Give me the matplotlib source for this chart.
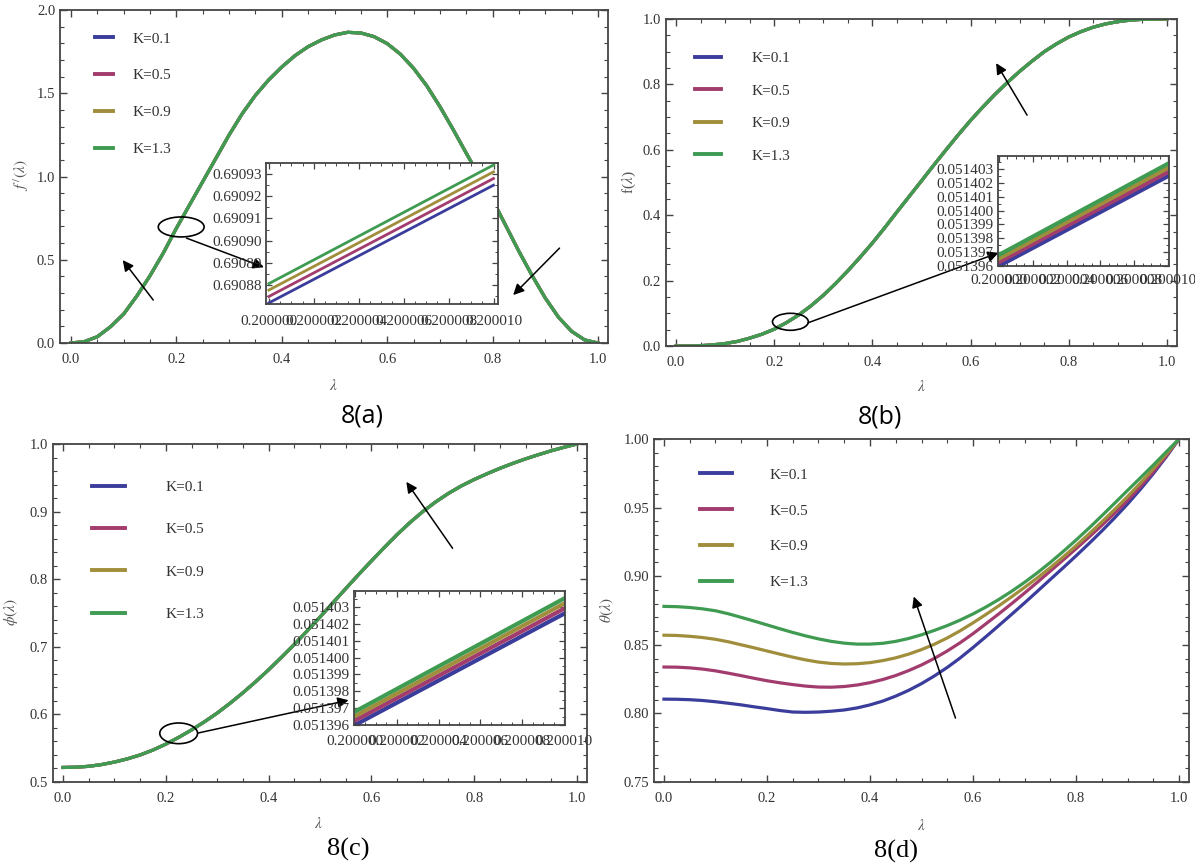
import matplotlib
matplotlib.use('Agg')
import matplotlib.pyplot as plt
from matplotlib.ticker import MultipleLocator, FormatStrFormatter, FixedLocator
from matplotlib.patches import Ellipse
from matplotlib.lines import Line2D

plt.rcParams['font.family'] = ['Liberation Serif', 'DejaVu Serif']
plt.rcParams['mathtext.fontset'] = 'stix'

# ---------------- data ----------------
K_labels = ['K=0.1', 'K=0.5', 'K=0.9', 'K=1.3']
colors = ['#3b3d9c', '#a23c6e', '#a08e3c', '#3f9b52']

lam = [0.000, 0.025, 0.050, 0.075, 0.100, 0.125, 0.150, 0.175, 0.200, 0.225,
       0.250, 0.275, 0.300, 0.325, 0.350, 0.375, 0.400, 0.425, 0.450, 0.475,
       0.500, 0.525, 0.550, 0.575, 0.600, 0.625, 0.650, 0.675, 0.700, 0.725,
       0.750, 0.775, 0.800, 0.825, 0.850, 0.875, 0.900, 0.925, 0.950, 0.975, 1.000]

fprime = [0.000, 0.008, 0.038, 0.098, 0.175, 0.283, 0.405, 0.540, 0.690, 0.830,
          0.970, 1.110, 1.250, 1.378, 1.488, 1.580, 1.658, 1.726, 1.780, 1.820,
          1.850, 1.866, 1.862, 1.840, 1.798, 1.735, 1.650, 1.545, 1.420, 1.283,
          1.140, 1.000, 0.860, 0.705, 0.550, 0.405, 0.270, 0.155, 0.070, 0.018, 0.000]

f_vals = [0.0000, 0.0001, 0.0010, 0.0035, 0.0075, 0.0140, 0.0240, 0.0360, 0.0514, 0.0715,
          0.0950, 0.1230, 0.1550, 0.1910, 0.2300, 0.2715, 0.3150, 0.3615, 0.4100, 0.4575,
          0.5050, 0.5530, 0.6000, 0.6460, 0.6900, 0.7310, 0.7700, 0.8060, 0.8400, 0.8710,
          0.9000, 0.9240, 0.9450, 0.9615, 0.9750, 0.9850, 0.9920, 0.9965, 0.9990, 0.9998, 1.0000]

phi_vals = [0.5215, 0.5219, 0.5232, 0.5258, 0.5295, 0.5342, 0.5400, 0.5473, 0.5560, 0.5660,
            0.5770, 0.5890, 0.6020, 0.6165, 0.6320, 0.6485, 0.6660, 0.6845, 0.7035, 0.7235,
            0.7440, 0.7650, 0.7860, 0.8068, 0.8270, 0.8468, 0.8660, 0.8838, 0.9000, 0.9143,
            0.9270, 0.9380, 0.9475, 0.9560, 0.9640, 0.9713, 0.9780, 0.9842, 0.9900, 0.9952, 1.0000]

theta_K01 = [0.8104, 0.8103, 0.8100, 0.8094, 0.8085, 0.8074, 0.8062, 0.8048, 0.8035, 0.8021,
             0.8010, 0.8008, 0.8010, 0.8016, 0.8025, 0.8040, 0.8062, 0.8090, 0.8126, 0.8168,
             0.8217, 0.8273, 0.8335, 0.8404, 0.8480, 0.8559, 0.8640, 0.8722, 0.8805, 0.8890,
             0.8976, 0.9061, 0.9148, 0.9237, 0.9329, 0.9425, 0.9526, 0.9633, 0.9747, 0.9869, 1.0000]
theta_K05 = [0.8338, 0.8337, 0.8332, 0.8323, 0.8310, 0.8293, 0.8275, 0.8256, 0.8238, 0.8223,
             0.8210, 0.8199, 0.8192, 0.8191, 0.8196, 0.8207, 0.8224, 0.8247, 0.8276, 0.8312,
             0.8353, 0.8401, 0.8455, 0.8515, 0.8581, 0.8653, 0.8725, 0.8800, 0.8877, 0.8956,
             0.9037, 0.9118, 0.9200, 0.9284, 0.9370, 0.9459, 0.9552, 0.9653, 0.9760, 0.9875, 1.0000]
theta_K09 = [0.8570, 0.8568, 0.8562, 0.8553, 0.8540, 0.8522, 0.8500, 0.8478, 0.8455, 0.8432,
             0.8410, 0.8390, 0.8374, 0.8364, 0.8360, 0.8362, 0.8370, 0.8385, 0.8405, 0.8432,
             0.8465, 0.8504, 0.8550, 0.8602, 0.8660, 0.8721, 0.8784, 0.8850, 0.8918, 0.8988,
             0.9062, 0.9140, 0.9222, 0.9307, 0.9395, 0.9486, 0.9580, 0.9679, 0.9782, 0.9889, 1.0000]
theta_K13 = [0.8780, 0.8778, 0.8772, 0.8762, 0.8748, 0.8726, 0.8700, 0.8673, 0.8645, 0.8617,
             0.8590, 0.8565, 0.8543, 0.8525, 0.8512, 0.8505, 0.8505, 0.8511, 0.8525, 0.8546,
             0.8573, 0.8605, 0.8640, 0.8680, 0.8725, 0.8775, 0.8830, 0.8890, 0.8955, 0.9025,
             0.9100, 0.9180, 0.9263, 0.9350, 0.9440, 0.9532, 0.9625, 0.9717, 0.9810, 0.9905, 1.0000]
theta_all = [theta_K01, theta_K05, theta_K09, theta_K13]

# zoomed insets (endpoints of the nearly straight segments)
inset_x = [0.200000, 0.200010]
inset_a_y = [[0.6908719, 0.6909250], [0.6908748, 0.6909280],
             [0.6908777, 0.6909310], [0.6908806, 0.6909341]]
inset_b_y = [[0.05139600, 0.05140250], [0.05139627, 0.05140280],
             [0.05139653, 0.05140310], [0.05139680, 0.05140340]]
inset_c_y = [[0.05139600, 0.05140260], [0.05139627, 0.05140290],
             [0.05139653, 0.05140320], [0.05139680, 0.05140350]]

inset_xticks = [0.200000, 0.200002, 0.200004, 0.200006, 0.200008, 0.200010]
inset_a_yticks = [0.69088, 0.69089, 0.69090, 0.69091, 0.69092, 0.69093]
inset_bc_yticks = [0.051396, 0.051397, 0.051398, 0.051399, 0.051400, 0.051401, 0.051402, 0.051403]

# ---------------- figure ----------------
W, H = 1195, 865
fig = plt.figure(figsize=(W / 100, H / 100), dpi=100)
fig.patch.set_facecolor('white')


def rect(l, t, r, b):
    return [l / W, 1 - b / H, (r - l) / W, (b - t) / H]


SP = '#444444'
TXT = '#333333'


def style(ax, xmaj, xmin, ymaj, ymin, fs=10.5):
    ax.xaxis.set_major_locator(MultipleLocator(xmaj))
    ax.xaxis.set_minor_locator(MultipleLocator(xmin))
    ax.yaxis.set_major_locator(MultipleLocator(ymaj))
    ax.yaxis.set_minor_locator(MultipleLocator(ymin))
    ax.tick_params(which='both', direction='in', top=True, right=True,
                   colors=SP, labelcolor=TXT, labelsize=fs)
    ax.tick_params(axis='x', which='both', pad=7)
    ax.tick_params(axis='y', which='both', pad=3.5)
    ax.tick_params(which='major', length=5, width=1.0)
    ax.tick_params(which='minor', length=3, width=0.8)
    for s in ax.spines.values():
        s.set_color(SP)
        s.set_linewidth(1.3)


def style_inset(ax, yfmt, xpad, fs=11):
    ax.xaxis.set_major_locator(FixedLocator(inset_xticks))
    ax.xaxis.set_major_formatter(FormatStrFormatter('%.6f'))
    ax.xaxis.set_minor_locator(MultipleLocator(0.5e-6))
    ax.yaxis.set_major_formatter(FormatStrFormatter(yfmt))
    ax.tick_params(which='both', direction='in', top=True, right=True,
                   colors=SP, labelcolor=TXT, labelsize=fs)
    ax.tick_params(axis='x', which='both', pad=xpad)
    ax.tick_params(axis='y', which='both', pad=3)
    ax.tick_params(which='major', length=4, width=0.9)
    ax.tick_params(which='minor', length=2.5, width=0.7)
    for s in ax.spines.values():
        s.set_color(SP)
        s.set_linewidth(1.3)


def legend(ax, x, y, hl, htp, ls):
    handles = [Line2D([], [], color=c, lw=2.8) for c in colors]
    ax.legend(handles, K_labels, loc='upper left', bbox_to_anchor=(x / W, 1 - y / H),
              bbox_transform=fig.transFigure, frameon=False, borderpad=0, borderaxespad=0,
              handlelength=hl, handletextpad=htp, labelspacing=ls, fontsize=11,
              labelcolor=TXT)


def arrow(ax, tail, head):
    ax.annotate('', xy=head, xytext=tail, annotation_clip=False,
                arrowprops=dict(arrowstyle='-|>', color='black', lw=1.1,
                                mutation_scale=16, shrinkA=0, shrinkB=0), zorder=6)


def ftext(x, y, s, **kw):
    fig.text(x / W, 1 - y / H, s, ha='center', va='center', **kw)


LW = 2.3

# ---- (a) ----
axa = fig.add_axes(rect(60, 10, 608, 343))
for c in colors:
    axa.plot(lam, fprime, color=c, lw=LW)
axa.set_xlim(-0.021, 1.019)
axa.set_ylim(0, 2.0)
axa.xaxis.set_major_formatter(FormatStrFormatter('%.1f'))
axa.yaxis.set_major_formatter(FormatStrFormatter('%.1f'))
style(axa, 0.2, 0.05, 0.5, 0.1)
legend(axa, 95, 32, 1.2, 1.25, 1.51)
axa.add_patch(Ellipse((0.209, 0.697), 0.087, 0.12, fill=False, ec='black', lw=1.2, zorder=5))
arrow(axa, (0.219, 0.63), (0.366, 0.455))
arrow(axa, (0.156, 0.258), (0.098, 0.498))
arrow(axa, (0.927, 0.57), (0.839, 0.288))

ia = fig.add_axes(rect(266, 163, 498, 304))
for c, yy in zip(colors, inset_a_y):
    ia.plot(inset_x, yy, color=c, lw=2.0)
ia.set_xlim(0.19999987, 0.2000102)
ia.set_ylim(0.6908714, 0.6909350)
ia.yaxis.set_major_locator(FixedLocator(inset_a_yticks))
ia.yaxis.set_minor_locator(MultipleLocator(0.5e-5))
style_inset(ia, '%.5f', xpad=8)

# ---- (b) ----
axb = fig.add_axes(rect(666, 19, 1177, 346))
for c in colors:
    axb.plot(lam, f_vals, color=c, lw=LW)
axb.set_xlim(-0.0204, 1.0204)
axb.set_ylim(0, 1.0)
axb.xaxis.set_major_formatter(FormatStrFormatter('%.1f'))
axb.yaxis.set_major_formatter(FormatStrFormatter('%.1f'))
style(axb, 0.2, 0.05, 0.2, 0.05)
legend(axb, 695, 51.5, 1.72, 1.98, 1.23)
axb.add_patch(Ellipse((0.233, 0.074), 0.073, 0.052, fill=False, ec='black', lw=1.2, zorder=5))
arrow(axb, (0.269, 0.071), (0.657, 0.285))
arrow(axb, (0.715, 0.706), (0.652, 0.865))

ib = fig.add_axes(rect(998, 156, 1169, 266))
for c, yy in zip(colors, inset_b_y):
    ib.plot(inset_x, yy, color=c, lw=3.0)
ib.set_xlim(0.19999995, 0.20001005)
ib.set_ylim(0.051396, 0.05140395)
ib.yaxis.set_major_locator(FixedLocator(inset_bc_yticks))
ib.yaxis.set_minor_locator(MultipleLocator(0.5e-6))
style_inset(ib, '%.6f', xpad=6)

# ---- (c) ----
axc = fig.add_axes(rect(53, 444, 587, 782))
for c in colors:
    axc.plot(lam, phi_vals, color=c, lw=LW)
axc.set_xlim(-0.0195, 1.0195)
axc.set_ylim(0.5, 1.0)
axc.xaxis.set_major_formatter(FormatStrFormatter('%.1f'))
axc.yaxis.set_major_formatter(FormatStrFormatter('%.1f'))
style(axc, 0.2, 0.05, 0.1, 0.02)
legend(axc, 92, 480.5, 2.15, 2.65, 1.87)
axc.add_patch(Ellipse((0.225, 0.572), 0.0735, 0.0306, fill=False, ec='black', lw=1.2, zorder=5))
arrow(axc, (0.263, 0.5725), (0.5556, 0.621))
arrow(axc, (0.758, 0.8457), (0.668, 0.944))

ic = fig.add_axes(rect(354, 591, 565, 725))
for c, yy in zip(colors, inset_c_y):
    ic.plot(inset_x, yy, color=c, lw=3.0)
ic.set_xlim(0.19999995, 0.20001005)
ic.set_ylim(0.051396, 0.05140395)
ic.yaxis.set_major_locator(FixedLocator(inset_bc_yticks))
ic.yaxis.set_minor_locator(MultipleLocator(0.5e-6))
style_inset(ic, '%.6f', xpad=7.5)

# ---- (d) ----
axd = fig.add_axes(rect(654, 439, 1189, 782))
for c, th in zip(colors, theta_all):
    axd.plot(lam, th, color=c, lw=LW)
axd.set_xlim(-0.0194, 1.0194)
axd.set_ylim(0.75, 1.0)
axd.xaxis.set_major_formatter(FormatStrFormatter('%.1f'))
axd.yaxis.set_major_formatter(FormatStrFormatter('%.2f'))
style(axd, 0.2, 0.05, 0.05, 0.01)
legend(axd, 700, 468, 2.08, 2.48, 1.45)
arrow(axd, (0.566, 0.7966), (0.485, 0.8852))

# ---- axis labels ----
lab = dict(color='#555555', fontsize=11)
ftext(333, 385, r'$\lambda$', **lab)
ftext(921, 387, r'$\lambda$', **lab)
ftext(318, 823, r'$\lambda$', **lab)
ftext(921, 825, r'$\lambda$', **lab)
ftext(21, 175, r'$f^{\,/}(\lambda)$', rotation=90, **lab)
ftext(629, 182, r'f($\lambda$)', rotation=90, **lab)
ftext(11, 612, r'$\phi(\lambda)$', rotation=90, **lab)
ftext(607, 610, r'$\theta(\lambda)$', rotation=90, **lab)

# ---- captions ----
ftext(362, 416, '8(a)', fontsize=18, family=['Open Sans', 'DejaVu Sans'], color='black')
ftext(880, 417, '8(b)', fontsize=18, family=['Open Sans', 'DejaVu Sans'], color='black')
ftext(348, 849, '8(c)', fontsize=19, family=['Liberation Serif'], color='black')
ftext(896, 851, '8(d)', fontsize=19, family=['Liberation Serif'], color='black')

fig.savefig('out.png', dpi=100, facecolor='white')
